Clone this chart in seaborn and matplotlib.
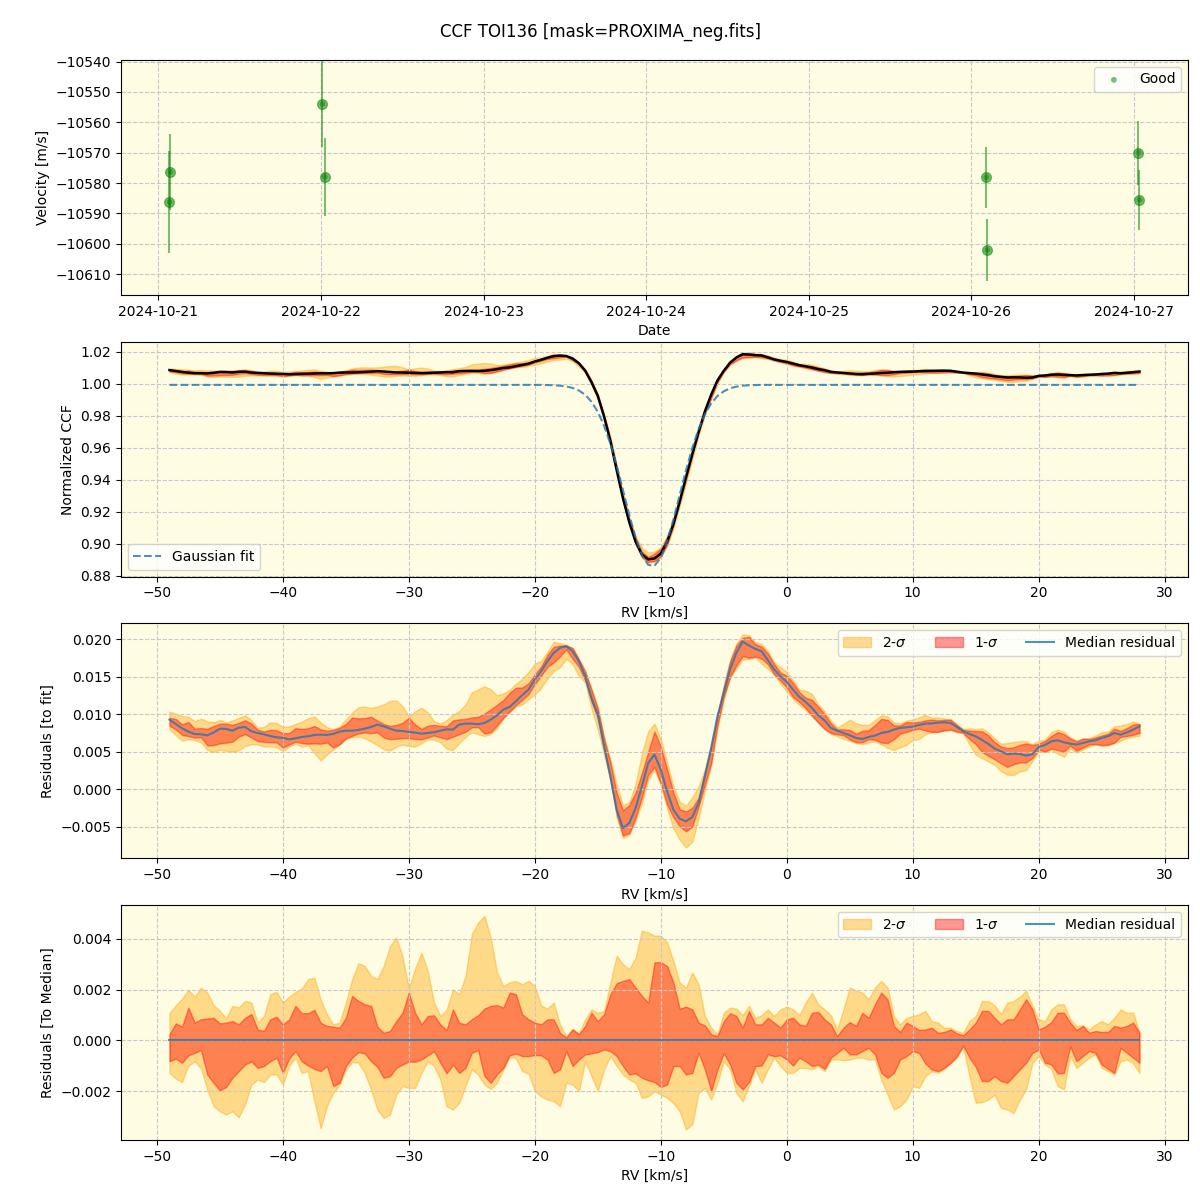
import numpy as np
import pandas as pd
import matplotlib
matplotlib.use("Agg")
import matplotlib.pyplot as plt
import matplotlib.dates as mdates
import seaborn as sns

# RV measurements (top panel)
obs_time = pd.to_datetime(["2024-10-21 01:38", "2024-10-21 01:47", "2024-10-22 00:13", "2024-10-22 00:33",
                           "2024-10-26 02:12", "2024-10-26 02:21", "2024-10-27 00:39", "2024-10-27 00:48"])
rv_obs = [-10586.3, -10576.4, -10554.0, -10578.0, -10578.1, -10602.1, -10570.1, -10585.6]
rv_err = [16.9, 12.4, 14.2, 12.7, 10.0, 10.2, 10.4, 10.0]

# velocity grid of the CCF [km/s], 0.5 km/s step
rv = [v / 2 for v in range(-98, 57)]

# gaussian fit of the CCF (flat outside -20..0)
gauss_fit = ([0.9993] * 58 +
             [0.9993, 0.9993, 0.9992, 0.9991, 0.9988, 0.9983, 0.9974, 0.9958, 0.9931, 0.9888,
              0.9825, 0.9738, 0.9625, 0.9488, 0.9336, 0.9181, 0.9040, 0.8931, 0.8869, 0.8863,
              0.8914, 0.9015, 0.9151, 0.9305, 0.9459, 0.9599, 0.9717, 0.9810, 0.9877, 0.9924,
              0.9953, 0.9972, 0.9982, 0.9988, 0.9991, 0.9992, 0.9993, 0.9993, 0.9993, 0.9993,
              0.9993] +
             [0.9993] * 56)

# median residual to the fit [1e-3]
resid_med = [9.25, 8.67, 8.10, 7.65, 7.34, 7.30, 7.16, 7.52, 8.05, 8.01,
             7.78, 8.19, 8.27, 7.70, 7.47, 7.30, 7.07, 6.90, 6.81, 6.63,
             6.76, 6.94, 7.03, 7.21, 7.25, 7.21, 7.34, 7.65, 7.78, 7.78,
             7.87, 8.05, 8.27, 8.59, 8.36, 8.05, 7.78, 7.74, 7.61, 7.52,
             7.38, 7.47, 7.56, 7.78, 7.96, 7.92, 8.59, 8.72, 8.72, 8.63,
             8.81, 9.25, 9.83, 10.59, 10.94, 11.70, 12.50, 13.26,
             14.59, 15.70, 17.04, 18.15, 18.82, 19.04, 18.37, 17.04, 15.04, 12.14,
             9.92, 5.69, 1.69, -2.76, -5.20, -4.54, -2.54, 0.36, 3.47, 4.60,
             2.58, -0.31, -2.76, -3.96, -4.31, -3.74, -1.87, 1.69, 5.47, 9.70,
             12.81, 15.93, 18.15, 19.66, 19.13, 18.68, 18.37, 17.17, 15.93, 15.04,
             14.28,
             13.26, 12.28, 11.61, 10.81, 9.83, 9.16, 8.14, 7.78, 7.47, 7.16,
             6.81, 6.67, 6.94, 7.12, 7.47, 7.61, 7.92, 8.14, 8.23, 8.32,
             8.54, 8.72, 8.76, 8.85, 8.90, 8.81, 8.27, 7.70, 7.34, 7.03,
             6.54, 6.01, 5.38, 5.03, 4.63, 4.72, 4.67, 4.45, 4.63, 5.61,
             5.87, 6.36, 6.50, 6.23, 6.05, 5.92, 6.14, 6.36, 6.50, 6.81,
             7.03, 7.47, 7.25, 7.56, 7.92, 8.36]

# spread around the median [1e-3]
up2 = [1.07, 1.38, 1.64, 1.99, 1.72, 2.08, 1.88, 1.39, 1.16, 0.88,
       1.36, 1.30, 1.55, 1.49, 0.70, 0.96, 1.82, 1.91, 1.49, 1.72,
       1.91, 2.04, 2.41, 2.47, 1.62, 1.03, 0.63, 0.70, 1.49, 2.41,
       3.04, 2.93, 2.54, 2.41, 2.93, 3.70, 4.05, 3.31, 2.05, 2.83,
       3.46, 2.74, 1.49, 0.96, 1.22, 2.01, 1.82, 2.54, 4.18, 4.64,
       4.90, 4.05, 2.67, 2.14, 2.28, 2.34, 2.21, 2.34,
       2.14, 1.38, 1.25, 1.49, 0.63, 0.17, 0.46, 0.28, 0.83, 1.22,
       1.09, 1.16, 2.28, 3.33, 3.00, 2.80, 3.26, 4.32, 4.25, 4.12,
       4.12, 3.86, 3.13, 2.28, 2.08, 2.67, 2.21, 0.96, 0.50, 0.24,
       1.09, 1.29, 1.25, 0.99, 1.36, 0.89, 0.99, 1.22, 0.96, 1.22,
       1.33,
       1.22, 0.99, 1.49, 1.88, 1.42, 1.22, 0.99, 0.43, 1.22, 2.08,
       1.97, 1.88, 1.62, 2.08, 2.34, 2.08, 0.96, 0.63, 0.89, 0.96,
       1.03, 1.16, 0.76, 0.70, 0.50, 0.50, 0.37, 0.30, 0.76, 0.96,
       1.55, 1.55, 1.38, 1.03, 1.49, 1.55, 1.72, 1.95, 1.36, 0.83,
       0.76, 1.22, 1.42, 1.42, 0.83, 0.57, 0.59, 0.43, 0.63, 0.76,
       0.63, 0.89, 1.22, 1.09, 1.09, 0.30]
up1 = [0.24, 0.67, 0.54, 1.29, 0.70, 0.83, 0.86, 0.89, 0.67, 0.70,
       0.76, 0.63, 0.89, 1.04, 0.43, 0.37, 0.83, 0.93, 0.63, 0.83,
       1.36, 1.07, 1.07, 1.20, 0.70, 0.57, 0.54, 0.50, 0.89, 1.75,
       1.55, 1.42, 1.36, 0.54, 0.30, 0.37, 0.76, 1.09, 1.88, 1.09,
       0.63, 0.96, 0.99, 0.63, 0.41, 1.22, 0.70, 0.63, 0.83, 0.99,
       1.25, 1.36, 1.39, 1.29, 1.88, 1.82, 1.03, 0.83,
       0.70, 0.63, 0.83, 0.83, 0.30, 0.11, 0.43, 0.24, 0.57, 1.09,
       0.76, 1.03, 1.82, 2.25, 2.34, 2.41, 2.08, 1.75, 1.49, 3.07,
       3.08, 2.93, 2.28, 1.25, 1.33, 1.22, 0.70, 0.59, 0.24, 0.17,
       0.76, 1.07, 0.96, 0.50, 1.16, 0.63, 0.63, 0.89, 0.70, 0.50,
       0.83,
       0.89, 0.63, 0.57, 1.09, 1.12, 0.83, 0.63, 0.17, 0.50, 0.72,
       0.57, 1.09, 0.89, 1.42, 1.88, 1.62, 0.57, 0.33, 0.70, 0.57,
       0.41, 0.43, 0.50, 0.30, 0.33, 0.43, 0.28, 0.20, 0.43, 0.70,
       1.16, 1.16, 0.89, 0.63, 0.83, 0.83, 1.22, 1.62, 1.22, 0.43,
       0.54, 0.72, 1.09, 1.09, 0.70, 0.41, 0.57, 0.30, 0.37, 0.33,
       0.33, 0.57, 0.50, 0.57, 0.70, 0.30]
lo1 = [-0.82, -0.72, -0.88, -0.59, -0.49, -0.38, -1.34, -1.67, -1.97, -1.83,
       -1.47, -1.21, -0.95, -0.83, -1.08, -1.01, -0.82, -0.68, -1.28, -0.71,
       -0.42, -0.82, -0.99, -1.12, -1.21, -1.01, -1.80, -1.67, -1.01, -0.68,
       -0.46, -0.51, -0.82, -1.04, -1.47, -1.41, -1.08, -0.95, -0.83, -0.84,
       -0.75, -0.59, -0.42, -0.88, -1.30, -0.95, -1.28, -1.08, -0.49, -0.38,
       -1.41, -1.67, -1.34, -1.08, -0.59, -0.51, -0.62, -0.62,
       -0.58, -0.59, -0.75, -1.28, -1.14, -0.42, -1.01, -0.75, -0.55, -0.51,
       -0.46, -0.36, -0.42, -0.62, -1.01, -1.34, -1.30, -1.47, -1.57, -1.64,
       -1.83, -1.74, -1.01, -1.01, -1.34, -1.28, -0.49, -1.14, -2.00, -1.14,
       -0.51, -0.95, -1.67, -1.93, -1.64, -1.01, -0.99, -0.55, -0.62, -0.59,
       -0.75,
       -0.99, -0.68, -0.82, -1.01, -0.95, -1.12, -0.68, -0.49, -0.29, -0.55,
       -0.55, -0.42, -0.29, -0.55, -1.28, -1.47, -1.28, -0.75, -0.62, -0.42,
       -0.49, -0.91, -1.14, -1.21, -1.08, -0.88, -0.62, -0.20, -0.68, -1.04,
       -1.60, -1.60, -1.41, -1.60, -1.67, -1.41, -1.14, -0.88, -0.49, -0.36,
       -0.88, -0.95, -1.30, -1.28, -0.24, -0.82, -0.62, -0.42, -0.49, -0.95,
       -1.12, -1.28, -0.29, -0.49, -0.68, -0.88]
lo2 = [-1.28, -1.50, -1.64, -0.99, -0.83, -1.09, -1.93, -2.59, -2.79, -2.92,
       -2.79, -3.03, -2.53, -1.74, -1.54, -1.64, -1.34, -1.34, -1.74, -1.01,
       -0.68, -1.28, -1.21, -2.40, -3.45, -2.59, -2.07, -1.75, -1.14, -0.86,
       -0.88, -1.28, -1.93, -2.72, -3.05, -2.92, -2.13, -1.80, -1.87, -1.87,
       -1.28, -0.82, -1.01, -1.54, -2.59, -2.72, -2.46, -1.80, -1.14, -1.34,
       -1.74, -1.91, -1.67, -1.15, -0.66, -0.70, -1.21, -1.30,
       -2.00, -2.20, -2.33, -2.39, -2.59, -1.67, -1.74, -2.00, -0.82, -1.41,
       -2.00, -1.14, -0.62, -1.01, -1.34, -1.54, -1.67, -2.26, -2.20, -2.00,
       -2.13, -2.26, -2.47, -2.79, -3.50, -3.30, -2.07, -1.87, -2.33, -1.67,
       -0.82, -1.14, -2.07, -2.39, -1.80, -1.12, -1.67, -1.14, -0.68, -1.01,
       -1.28,
       -1.28, -1.08, -1.08, -1.14, -1.00, -1.21, -0.75, -0.75, -0.78, -0.75,
       -0.68, -0.68, -0.75, -0.75, -1.54, -2.13, -2.72, -2.59, -2.33, -1.80,
       -1.87, -1.41, -1.21, -1.28, -1.12, -0.91, -0.68, -0.25, -1.41, -2.46,
       -2.43, -2.33, -2.14, -2.66, -2.72, -2.86, -2.33, -1.93, -0.88, -0.62,
       -0.95, -1.12, -1.80, -1.93, -0.62, -1.08, -0.88, -0.68, -0.55, -1.08,
       -1.21, -1.34, -0.82, -0.75, -0.90, -1.28]

for s in (gauss_fit, resid_med, up2, up1, lo1, lo2):
    assert len(s) == len(rv), len(s)

x = np.array(rv)
med = np.array(resid_med) * 1e-3
u2, u1 = np.array(up2) * 1e-3, np.array(up1) * 1e-3
l1, l2 = np.array(lo1) * 1e-3, np.array(lo2) * 1e-3
gfit = np.array(gauss_fit)
ccf = gfit + med

bg = "#fefce3"
grid_kw = dict(linestyle="--", color="#c8c8c8", linewidth=0.8)

fig, axes = plt.subplots(4, 1, figsize=(12, 12), dpi=100)
fig.subplots_adjust(left=0.1008, right=0.99, top=0.95, bottom=0.05, hspace=0.2)
fig.suptitle("CCF TOI136 [mask=PROXIMA_neg.fits]", fontsize=12, y=0.981)

# --- top: velocities
ax = axes[0]
ax.set_facecolor(bg)
ax.errorbar(obs_time, rv_obs, yerr=rv_err, fmt="o", color="green", alpha=0.5, ms=7, lw=1.5)
sns.scatterplot(x=obs_time, y=rv_obs, ax=ax, color="green", alpha=0.5, s=18, edgecolor="none", label="Good")
ax.set_ylim(-10616.8, -10539.5)
ax.xaxis.set_major_locator(mdates.DayLocator())
ax.xaxis.set_major_formatter(mdates.DateFormatter("%Y-%m-%d"))
ax.set_xlabel("Date")
ax.set_ylabel("Velocity [m/s]")
ax.grid(True, **grid_kw)
ax.legend(loc="upper right")

# --- CCF + gaussian fit
ax = axes[1]
ax.set_facecolor(bg)
ax.fill_between(x, ccf + l2, ccf + u2, color="orange", alpha=0.4)
ax.fill_between(x, ccf + l1, ccf + u1, color="red", alpha=0.4)
sns.lineplot(x=x, y=ccf, ax=ax, color="black", lw=1.8)
sns.lineplot(x=x, y=gfit, ax=ax, color="tab:blue", alpha=0.8, lw=1.5, linestyle="--", label="Gaussian fit")
ax.set_xlabel("RV [km/s]")
ax.set_ylabel("Normalized CCF")
ax.grid(True, **grid_kw)
ax.legend(loc="lower left")

# --- residuals to the fit, then to the median
for ax, base, ylab in [(axes[2], med, "Residuals [to fit]"),
                       (axes[3], np.zeros_like(med), "Residuals [To Median]")]:
    ax.set_facecolor(bg)
    ax.fill_between(x, base + l2, base + u2, color="orange", alpha=0.4, label=r"2-$\sigma$")
    ax.fill_between(x, base + l1, base + u1, color="red", alpha=0.4, label=r"1-$\sigma$")
    sns.lineplot(x=x, y=base, ax=ax, color="tab:blue", alpha=0.8, lw=1.5, label="Median residual")
    ax.set_xlabel("RV [km/s]")
    ax.set_ylabel(ylab)
    ax.grid(True, **grid_kw)
    ax.legend(loc="upper right", ncol=3)

fig.savefig("out.png", dpi=100)
